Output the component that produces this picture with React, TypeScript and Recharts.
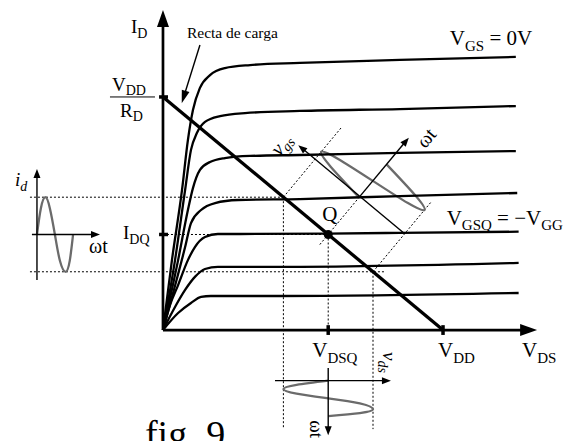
import React from "react";
import {
  ComposedChart,
  Line,
  XAxis,
  YAxis,
  ReferenceLine,
  ReferenceDot,
} from "recharts";

const WIDTH = 564;
const HEIGHT = 441;

// The plot area is the whole drawing: V_DS in volts across, I_D in mA up,
// with room left of and below the axes for the i_d and v_ds waveforms.
const X_DOMAIN: [number, number] = [-5.82, 14.32];
const Y_DOMAIN: [number, number] = [-4.76, 14.16];
const X_TIP = 13.36;
const Y_TIP = 13.73;

const VDD = 10; // V
const VDD_OVER_RD = 10; // mA
const VDSQ = 5.9;
const IDQ = 4.1;
const SWING = 1.6; // peak swing along the load line

// drain characteristics [V_DS, I_D], from V_GS = 0 down
const curveVgs0 = [[0, 0], [0.32, 3.0], [0.68, 6.01], [0.89, 8.15], [1.07, 9.44], [1.32, 10.39], [1.68, 10.94], [2.21, 11.24], [3.11, 11.37], [4.89, 11.46], [8.46, 11.59], [12.6, 11.72]];
const curveVgs1 = [[0, 0], [0.43, 3.0], [0.79, 6.01], [1.0, 7.73], [1.21, 8.45], [1.5, 8.93], [2.04, 9.18], [2.93, 9.31], [4.89, 9.4], [8.46, 9.48], [12.6, 9.61]];
const curveVgs2 = [[0, 0], [0.54, 3.0], [0.89, 5.15], [1.07, 6.09], [1.32, 6.87], [1.68, 7.21], [2.21, 7.38], [3.11, 7.47], [4.89, 7.51], [8.46, 7.6], [12.6, 7.68]];
const curveVgs3 = [[0, 0], [0.39, 1.72], [0.79, 3.56], [1.0, 4.59], [1.36, 5.15], [1.86, 5.45], [2.68, 5.58], [4.89, 5.62], [8.46, 5.75], [12.65, 5.88]];
const curveVgsQ = [[0, 0], [0.25, 1.07], [0.54, 1.93], [0.89, 3.0], [1.14, 3.56], [1.5, 3.99], [1.96, 4.12], [2.75, 4.12], [5.9, 4.14], [8.46, 4.17], [12.7, 4.22]];
const curveVgs5 = [[0, 0], [0.43, 0.99], [0.79, 1.72], [1.14, 2.28], [1.5, 2.62], [1.96, 2.71], [4.18, 2.71], [12.7, 2.88]];
const curveVgs6 = [[0, 0], [0.54, 0.73], [1.0, 1.16], [1.36, 1.42], [1.71, 1.46], [4.18, 1.46], [12.7, 1.59]];
const curves = [curveVgs0, curveVgs1, curveVgs2, curveVgs3, curveVgsQ, curveVgs5, curveVgs6];

// i_d against time, left of the I_D axis
const idTime = [-4.5, -4.36, -4.2, -4.04, -3.86, -3.68, -3.48, -3.33, -3.21];
const idValue = [4.1, 5.23, 5.7, 5.23, 4.1, 2.97, 2.5, 2.97, 4.1];

// v_ds against time, running down under the V_DS axis
const vdsTime = [-2.17, -2.35, -2.53, -2.73, -2.93, -3.15, -3.4, -3.56, -3.69];
const vdsValue = [5.9, 4.77, 4.3, 4.77, 5.9, 7.03, 7.5, 7.03, 5.9];

// v_gs against time, on axes tilted with the load line
const vgsTime = [-0.035, 0.1125, 0.26, 0.4075, 0.555, 0.7025, 0.85, 0.9975, 1.145];
const vgsValue = [0, 1.13, 1.6, 1.13, 0, -1.13, -1.6, -1.13, 0];

// tilted frame: v along the load line, t square to it on the page
const V_DIR = [-1, 1];
const T_DIR = [0.832, 1.201];
const Q_OFFSET = 1.36;
const frameOrigin = [VDSQ + Q_OFFSET * T_DIR[0], IDQ + Q_OFFSET * T_DIR[1]];
const frame = (t: number, v: number): [number, number] => [
  frameOrigin[0] + t * T_DIR[0] + v * V_DIR[0],
  frameOrigin[1] + t * T_DIR[1] + v * V_DIR[1],
];

const ink = "#000";
const grey = "#6b6b6b";
const serif = "'Liberation Serif', 'Times New Roman', serif";

const arrowShape = (len: number, half: number) => (p: any) => {
  const { x1, y1, x2, y2, stroke, strokeWidth } = p;
  const d = Math.hypot(x2 - x1, y2 - y1) || 1;
  const ux = (x2 - x1) / d;
  const uy = (y2 - y1) / d;
  const bx = x2 - ux * len;
  const by = y2 - uy * len;
  const head = `${x2},${y2} ${bx - uy * half},${by + ux * half} ${bx + uy * half},${by - ux * half}`;
  return (
    <g>
      <line x1={x1} y1={y1} x2={bx + ux} y2={by + uy} stroke={stroke} strokeWidth={strokeWidth} />
      <polygon points={head} fill={stroke} />
    </g>
  );
};

type Pt = [number, number];
const seg = (key: string, a: Pt, b: Pt, style: any) => (
  <ReferenceLine
    key={key}
    segment={[{ x: a[0], y: a[1] }, { x: b[0], y: b[1] }]}
    ifOverflow="visible"
    stroke={ink}
    {...style}
  />
);

const dotted = { strokeWidth: 1, strokeDasharray: "2 2" };
const thin = { strokeWidth: 1.4 };
const small = (len = 9, half = 3.5) => ({ strokeWidth: 1.4, shape: arrowShape(len, half) });

type Part = { t: string; sub?: boolean };
type Note = {
  id: string;
  at: Pt;
  dx: number;
  dy: number;
  size: number;
  italic?: boolean;
  rotate?: number;
  anchor?: "start" | "middle";
  central?: boolean;
  parts: Part[];
};

const notes: Note[] = [
  { id: "iD", at: [0, Y_TIP], dx: -32, dy: 23, size: 19, parts: [{ t: "I" }, { t: "D", sub: true }] },
  { id: "recta", at: [1.32, 12.23], dx: -13, dy: -7, size: 15.5, parts: [{ t: "Recta de carga" }] },
  { id: "vgs0", at: [12.6, 11.72], dx: -66, dy: -12, size: 21, parts: [{ t: "V" }, { t: "GS", sub: true }, { t: " = 0V" }] },
  { id: "vgsq", at: [12.7, 4.22], dx: -72, dy: -7, size: 21, parts: [{ t: "V" }, { t: "GSQ", sub: true }, { t: " = \u2212V" }, { t: "GG", sub: true }] },
  { id: "idq", at: [0, IDQ], dx: -40, dy: 4.5, size: 19, parts: [{ t: "I" }, { t: "DQ", sub: true }] },
  { id: "q", at: [VDSQ, IDQ], dx: -6, dy: -13.5, size: 21, parts: [{ t: "Q" }] },
  { id: "vdsq", at: [VDSQ, 0], dx: -16, dy: 27, size: 21, parts: [{ t: "V" }, { t: "DSQ", sub: true }] },
  { id: "vdd", at: [VDD, 0], dx: -5, dy: 27, size: 21, parts: [{ t: "V" }, { t: "DD", sub: true }] },
  { id: "vds", at: [X_TIP, 0], dx: -15, dy: 27, size: 21, parts: [{ t: "V" }, { t: "DS", sub: true }] },
  { id: "id", at: [-4.5, 6.91], dx: -22, dy: 17, size: 19, italic: true, parts: [{ t: "i" }, { t: "d", sub: true }] },
  { id: "wtL", at: [-2.25, IDQ], dx: -11, dy: 18.5, size: 20, parts: [{ t: "\u03c9t" }] },
  { id: "vdsSig", at: [8.14, -2.17], dx: -8, dy: -28.6, size: 19, italic: true, rotate: 90, parts: [{ t: "v" }, { t: "ds", sub: true }] },
  { id: "wtB", at: [VDSQ, -4.51], dx: -18, dy: -15, size: 19, rotate: 90, parts: [{ t: "\u03c9t" }] },
  { id: "wtR", at: frame(2.4, -0.36), dx: 0, dy: 0, size: 20, rotate: -50, anchor: "middle", central: true, parts: [{ t: "\u03c9t" }] },
  { id: "vgsSig", at: frame(-0.28, 2.58), dx: 0, dy: 0, size: 20, italic: true, rotate: -50, anchor: "middle", central: true, parts: [{ t: "v" }, { t: "gs", sub: true }] },
  { id: "fig", at: [0, Y_DOMAIN[0]], dx: -18, dy: 6, size: 38, parts: [{ t: "fig. 9" }] },
];

function renderNote(n: Note) {
  const subSize = Math.round(n.size * 0.72);
  const shift = n.size * 0.27;
  return (
    <ReferenceDot
      key={n.id}
      x={n.at[0]}
      y={n.at[1]}
      r={1}
      ifOverflow="visible"
      shape={(p: any) => {
        const x = p.cx + n.dx;
        const y = p.cy + n.dy;
        let level = 0;
        return (
          <text
            x={x}
            y={y}
            fontFamily={serif}
            fontSize={n.size}
            fontStyle={n.italic ? "italic" : "normal"}
            fill={ink}
            textAnchor={n.anchor ?? "start"}
            dominantBaseline={n.central ? "central" : undefined}
            transform={n.rotate ? `rotate(${n.rotate} ${x} ${y})` : undefined}
            style={{ whiteSpace: "pre" }}
          >
            {n.parts.map((part, k) => {
              const target = part.sub ? shift : 0;
              const dy = target - level;
              level = target;
              return (
                <tspan key={k} dy={dy || undefined} fontSize={part.sub ? subSize : undefined}>
                  {part.t}
                </tspan>
              );
            })}
          </text>
        );
      }}
    />
  );
}

// V_DD over R_D, written as a fraction beside the load line intercept
const fractionNote = (
  <ReferenceDot
    key="vddrd"
    x={0}
    y={VDD_OVER_RD}
    r={1}
    ifOverflow="visible"
    shape={(p: any) => {
      const x = p.cx;
      const y = p.cy;
      return (
        <g fontFamily={serif} fill={ink}>
          <text x={x - 51} y={y - 6} fontSize={19}>
            V<tspan dy={4} fontSize={14}>DD</tspan>
          </text>
          <line x1={x - 53} y1={y} x2={x - 8} y2={y} stroke={ink} strokeWidth={1} />
          <text x={x - 43} y={y + 20} fontSize={19}>
            R<tspan dy={4} fontSize={14}>D</tspan>
          </text>
        </g>
      );
    }}
  />
);

const toPoints = (xs: number[], ys: number[]) => xs.map((x, i) => ({ x, y: ys[i] }));

const idWave = toPoints(idTime, idValue);
const vdsWave = toPoints(vdsValue, vdsTime);
const vgsWave = vgsTime.map((t, i) => {
  const [x, y] = frame(t, vgsValue[i]);
  return { x, y };
});

const upper: Pt = [VDSQ + SWING * V_DIR[0], IDQ + SWING * V_DIR[1]];
const lower: Pt = [VDSQ - SWING * V_DIR[0], IDQ - SWING * V_DIR[1]];
const Q_T = -Q_OFFSET;

export default function App() {
  return (
    <div style={{ position: "absolute", left: 0, top: 0, width: WIDTH, height: HEIGHT, background: "#fff" }}>
      <ComposedChart width={WIDTH} height={HEIGHT} margin={{ top: 0, right: 0, bottom: 0, left: 0 }}>
        <XAxis type="number" dataKey="x" domain={X_DOMAIN} allowDataOverflow hide />
        <YAxis type="number" dataKey="y" domain={Y_DOMAIN} allowDataOverflow hide />

        {/* projection guides */}
        {seg("hUp", [-4.75, upper[1]], upper, dotted)}
        {seg("hQ", [0, IDQ], [VDSQ, IDQ], dotted)}
        {seg("hLo", [-4.75, lower[1]], [7.9, lower[1]], dotted)}
        {seg("vUp", upper, [upper[0], -4.25], dotted)}
        {seg("vQ", [VDSQ, IDQ], [VDSQ, 0], dotted)}
        {seg("vLo", lower, [lower[0], -4.25], dotted)}
        {seg("rUp", frame(Q_T, SWING), frame(1.16, SWING), dotted)}
        {seg("rQ", frame(Q_T - 0.36, 0), frame(0, 0), dotted)}
        {seg("rLo", frame(Q_T, -SWING), frame(1.16, -SWING), dotted)}

        {/* waveforms */}
        <Line data={idWave} dataKey="y" type="natural" stroke={grey} strokeWidth={2.3} dot={false} activeDot={false} isAnimationActive={false} />
        <Line data={vdsWave} dataKey="y" type="natural" stroke={grey} strokeWidth={2.3} dot={false} activeDot={false} isAnimationActive={false} />
        <Line data={vgsWave} dataKey="y" type="natural" stroke={grey} strokeWidth={2.3} dot={false} activeDot={false} isAnimationActive={false} />

        {/* small time/value axes */}
        {seg("idAx", [-4.5, 2.15], [-4.5, 6.91], small())}
        {seg("idT", [-4.68, IDQ], [-2.25, IDQ], small())}
        {seg("vdsAx", [4.0, -2.17], [8.14, -2.17], small())}
        {seg("vdsT", [VDSQ, -1.63], [VDSQ, -4.51], small())}
        {seg("vgsAx", frame(0, -SWING), frame(0, 2.2), small())}
        {seg("vgsT", frame(0, 0), frame(2.1, 0), small())}

        {/* drain characteristics */}
        {curves.map((c, i) => (
          <Line
            key={`vgs${i}`}
            data={c.map(([x, y]) => ({ x, y }))}
            dataKey="y"
            type="monotone"
            stroke={ink}
            strokeWidth={2.3}
            dot={false}
            activeDot={false}
            isAnimationActive={false}
          />
        ))}

        {/* main axes and ticks */}
        {seg("yAx", [0, 0], [0, Y_TIP], { strokeWidth: 2.7, shape: arrowShape(17, 6) })}
        {seg("xAx", [0, 0], [X_TIP, 0], { strokeWidth: 2.7, shape: arrowShape(17, 6) })}
        {seg("tRd", [-0.14, VDD_OVER_RD], [0.18, VDD_OVER_RD], { strokeWidth: 3.5 })}
        {seg("tIdq", [-0.14, IDQ], [0.18, IDQ], { strokeWidth: 3.5 })}
        {seg("tVdsq", [VDSQ, -0.21], [VDSQ, 0.21], { strokeWidth: 3.5 })}
        {seg("tVdd", [VDD, -0.21], [VDD, 0.21], { strokeWidth: 3.5 })}

        {/* load line */}
        {seg("load", [0, VDD_OVER_RD], [VDD, 0], { strokeWidth: 3.3 })}
        {seg("recta", [1.32, 12.23], [0.67, 9.73], { ...thin, shape: arrowShape(13, 4) })}

        <ReferenceDot x={VDSQ} y={IDQ} r={4.5} fill={ink} stroke="none" ifOverflow="visible" />

        {fractionNote}
        {notes.map(renderNote)}
      </ComposedChart>
    </div>
  );
}
